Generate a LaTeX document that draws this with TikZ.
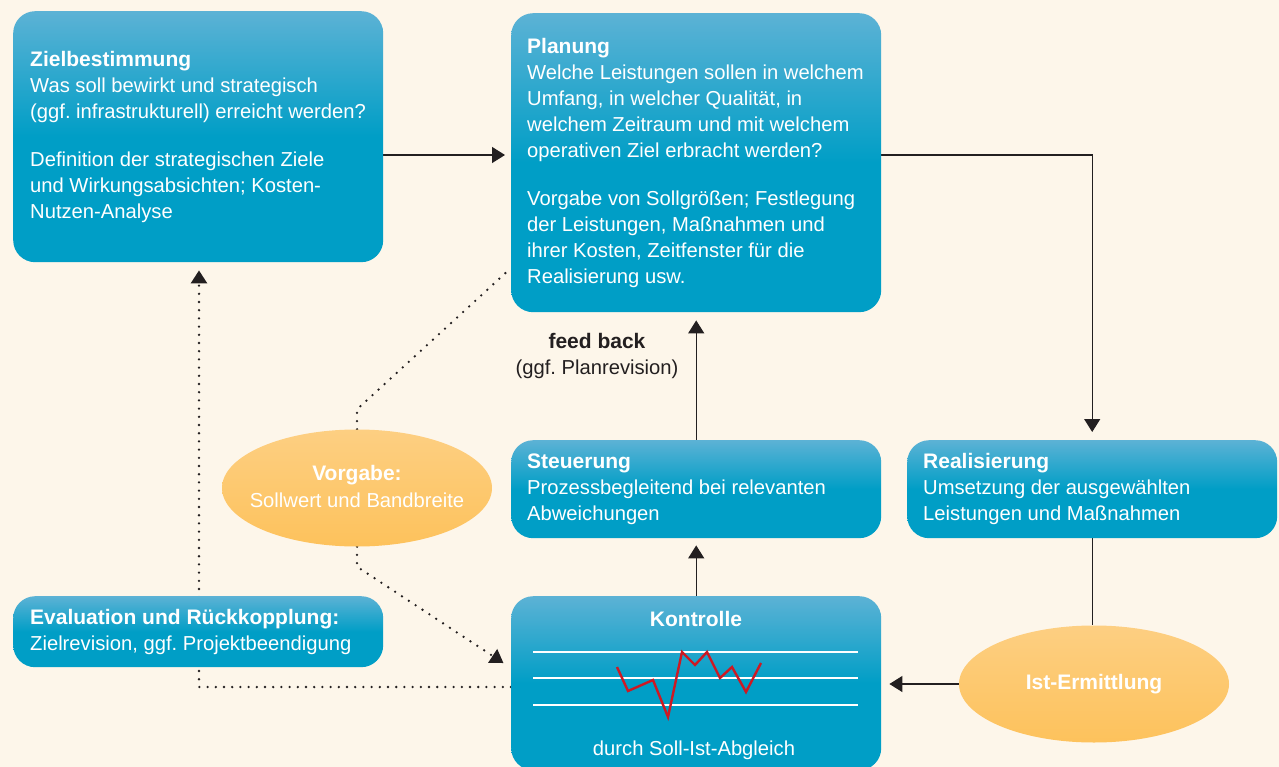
\documentclass[tikz,border=0pt]{standalone}
\usepackage{fontspec}
\setmainfont{Liberation Sans}
\usetikzlibrary{arrows.meta,shapes.geometric,calc}
\definecolor{bg}{RGB}{253,246,234}
\definecolor{boxtop}{RGB}{92,178,213}
\definecolor{boxbot}{RGB}{0,158,198}
\definecolor{elltop}{RGB}{253,207,130}
\definecolor{ellbot}{RGB}{253,194,92}
\definecolor{ink}{RGB}{35,31,32}
\definecolor{chartred}{RGB}{205,25,35}
\frenchspacing
\newcommand\hdtxt[1]{{\fontsize{21pt}{26pt}\selectfont\bfseries #1}}
\pgfdeclarelayer{bottom}
\pgfdeclarelayer{background}
\pgfsetlayers{bottom,background,main}
\begin{document}
\begin{tikzpicture}[x=1pt,y=-1pt,
  box/.style={rounded corners=22pt, top color=boxtop, bottom color=boxbot, middle color=boxbot, draw=none, inner sep=0pt, anchor=north west, minimum width=370pt},
  txt/.style={anchor=west, align=left, text=white, inner sep=0pt, font=\fontsize{20.2pt}{26pt}\selectfont},
  ctxt/.style={align=center, text=white, inner sep=0pt, font=\fontsize{20.2pt}{26pt}\selectfont},
  ell/.style={ellipse, top color=elltop, bottom color=ellbot, draw=none, minimum width=270pt, minimum height=117pt, inner xsep=-40pt, inner ysep=0pt, text=white, align=center, font=\fontsize{20.2pt}{27pt}\selectfont},
  tip/.style={-{Triangle[width=16pt,length=13pt]}},
  arr/.style={draw=ink, line width=1.3pt, tip},
  plain/.style={draw=ink, line width=1.3pt},
  dots/.style={draw=ink, line width=2.6pt, dash pattern=on 0pt off 8.2pt, line cap=round},
]
\begin{pgfonlayer}{bottom}
\fill[bg] (0,0) rectangle (1279,767);
\end{pgfonlayer}
\useasboundingbox (0,0) rectangle (1279,767);

% boxes
\node[box, minimum height=251pt] (ziel) at (13,11) {};
\node[box, minimum height=299pt] (plan) at (511,13) {};
\node[box, minimum height=98pt] (steu) at (511,440) {};
\node[box, minimum height=98pt] (real) at (907,440) {};
\node[box, minimum height=71pt] (eval) at (13,596) {};
\node[box, minimum height=174pt] (kontr) at (511,596) {};

% box texts
\node[txt] (zielT) at ($(ziel.west)+(17,0)$) {\hdtxt{Zielbestimmung}\\Was soll bewirkt und strategisch\\(ggf. infrastrukturell) erreicht werden?\\[22pt]Definition der strategischen Ziele\\und Wirkungsabsichten; Kosten-\\Nutzen-Analyse};
\node[txt] (planT) at ($(plan.west)+(16,0)$) {\hdtxt{Planung}\\Welche Leistungen sollen in welchem\\Umfang, in welcher Qualität, in\\welchem Zeitraum und mit welchem\\operativen Ziel erbracht werden?\\[22pt]Vorgabe von Sollgrößen; Festlegung\\der Leistungen, Maßnahmen und\\ihrer Kosten, Zeitfenster für die\\Realisierung usw.};
\node[txt] (steuT) at ($(steu.west)+(16,0)$) {\hdtxt{Steuerung}\\Prozessbegleitend bei relevanten\\Abweichungen};
\node[txt] (realT) at ($(real.west)+(16,0)$) {\hdtxt{Realisierung}\\Umsetzung der ausgewählten\\Leistungen und Maßnahmen};
\node[txt] (evalT) at ($(eval.west)+(17,0)$) {\hdtxt{Evaluation und Rückkopplung:}\\Zielrevision, ggf. Projektbeendigung};
\node[ctxt] (kontrT) at (696,619) {\hdtxt{Kontrolle}};
\node[ctxt] (kontrB) at (694,750) {durch Soll-Ist-Abgleich};

% chart in Kontrolle
\draw[white, line width=1.6pt] (533,652) -- (858,652);
\draw[white, line width=1.6pt] (533,678) -- (858,678);
\draw[white, line width=1.6pt] (533,705) -- (858,705);
\draw[chartred, line width=2.4pt] (617,667) -- (628,691) -- (653,680) -- (668,717) -- (682,652) -- (695,665) -- (707,652) -- (720,678) -- (732,667) -- (746,692) -- (761,663);

% ellipses
\node[ell] (vorg) at (357,488) {\raisebox{4pt}{\hdtxt{Vorgabe:}}\\\raisebox{4pt}{Sollwert und Bandbreite}};
\node[ell] (ist) at (1094,684) {\hdtxt{Ist-Ermittlung}};

% label
\node[align=center, text=ink, inner sep=0pt, font=\fontsize{20.2pt}{26pt}\selectfont] (fb) at (597,356) {\hdtxt{feed back}\\(ggf. Planrevision)};

% connectors
\coordinate (y155) at (0,155);
\coordinate (y268) at (0,268);
\coordinate (y668) at (0,668);
\coordinate (y687) at (0,687);
\coordinate (fbx) at (199,0);
\begin{pgfonlayer}{background}
\draw[arr, shorten >=6pt] (ziel.east |- y155) -- (plan.west |- y155);
\draw[arr, shorten >=8pt] (plan.east |- y155) -| (real.north);
\draw[arr, shorten >=8pt] (steu.north) -- (plan.south);
\draw[arr, shorten >=7pt] (kontr.north) -- (steu.south);
\draw[plain] (real.south) -- (real.south |- ist.north);
\draw[arr, shorten >=8pt] (ist.west) -- (kontr.east |- ist.west);
\draw[dots, tip, shorten >=8pt] (kontr.west |- y687) -| (fbx |- ziel.south);
\draw[dots] (vorg.north) -- ++(0,-20) -- (plan.west |- y268);
\draw[dots, tip, shorten >=9pt] (vorg.south) -- ++(0,20) -- (kontr.west |- y668);
\end{pgfonlayer}
\end{tikzpicture}
\end{document}
